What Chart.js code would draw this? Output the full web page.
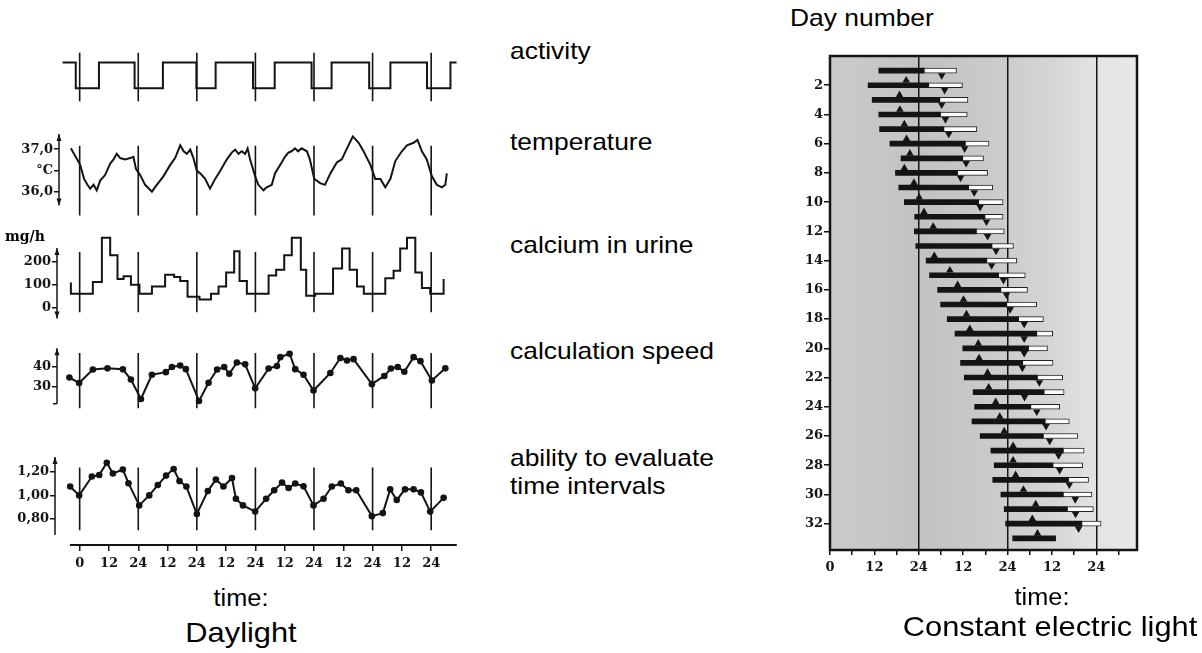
<!DOCTYPE html>
<html>
<head>
<meta charset="utf-8">
<title>Daylight vs constant electric light</title>
<script src="https://cdn.jsdelivr.net/npm/chart.js@4.4.1/dist/chart.umd.min.js"></script>
<style>
  body { margin:0; width:1202px; height:653px; background:#fff; position:relative; overflow:hidden;
         font-family:"Liberation Sans", Arial, sans-serif; color:#000; }
  canvas { position:absolute; }
  .lbl { position:absolute; white-space:nowrap; line-height:1; transform-origin:left top; transform:scaleX(1.1); }
  .mid { transform-origin:center top; transform:translateX(-50%) scaleX(1.1); }
  .unit { font-family:"DejaVu Serif", serif; font-weight:bold; font-size:14px; transform:none; }
</style>
</head>
<body>
<canvas id="activity" width="470" height="54" style="left:0;top:50px"></canvas>
<canvas id="temperature" width="470" height="108" style="left:0;top:120px"></canvas>
<canvas id="calcium" width="470" height="104" style="left:0;top:226px"></canvas>
<canvas id="speed" width="470" height="84" style="left:0;top:336px"></canvas>
<canvas id="evaluation" width="470" height="131" style="left:0;top:444px"></canvas>
<canvas id="actogram" width="380" height="550" style="left:780px;top:40px"></canvas>

<div class="lbl" style="left:510px;top:39px;font-size:24px">activity</div>
<div class="lbl" style="left:510px;top:130px;font-size:24px">temperature</div>
<div class="lbl" style="left:510px;top:233px;font-size:24px">calcium in urine</div>
<div class="lbl" style="left:510px;top:339px;font-size:24px">calculation speed</div>
<div class="lbl" style="left:510px;top:446px;font-size:24px">ability to evaluate</div>
<div class="lbl" style="left:510px;top:474px;font-size:24px">time intervals</div>
<div class="lbl unit" style="left:5px;top:229px">mg/h</div>
<div class="lbl mid" style="left:241px;top:587px;font-size:23px">time:</div>
<div class="lbl mid" style="left:241px;top:619px;font-size:28px">Daylight</div>
<div class="lbl" style="left:790px;top:6px;font-size:24px">Day number</div>
<div class="lbl mid" style="left:1042px;top:586px;font-size:23px">time:</div>
<div class="lbl mid" style="left:1050px;top:613px;font-size:28px">Constant electric light</div>

<script>
// ---- left panel: daylight, six days (hours from the first midnight) ----
const dayMarks = [0, 24, 48, 72, 96, 120, 144];
const xTickValues = [0, 12, 24, 36, 48, 60, 72, 84, 96, 108, 120, 132, 144];
const xTickLabels = ['0', '12', '24', '12', '24', '12', '24', '12', '24', '12', '24', '12', '24'];

const actTimes = [-7, -1.6, 7.9, 22.5, 34.1, 47.8, 55.7, 71, 79.9, 95, 103.2, 118.6, 127.3, 142.3, 151.9, 154.4];
const actLevels = [1, 0, 1, 0, 1, 0, 1, 0, 1, 0, 1, 0, 1, 0, 1, 1];

const tempTimes = [-3.6, 0.2, 1.8, 3.2, 4.3, 5.7, 7.0, 8.4, 10.4, 12.5, 13.9, 15.2, 16.6, 18.6, 20.7, 22.0, 23.1,
  24.8, 26.8, 29.6, 31.6, 34.3, 37.1, 39.1, 41.2, 42.6, 43.9, 45.3, 46.6, 48.0, 49.4, 51.4, 53.4, 55.5, 57.6,
  60.3, 62.3, 63.7, 65.1, 66.4, 67.8, 68.8, 69.8, 71.9, 73.2, 75.3, 76.6, 78.7, 80.0, 82.8, 84.1, 85.5, 86.8,
  88.2, 89.5, 90.9, 93.1, 94.3, 96.1, 98.5, 100.5, 102.7, 105.4, 107.4, 109.5, 111.9, 114.3, 116.3, 119.1,
  121.1, 123.2, 125.2, 127.3, 129.3, 132.0, 134.1, 136.8, 138.4, 140.2, 142.2, 144.3, 146.3, 148.4, 149.8, 150.4];
const tempValues = [37.02, 36.63, 36.30, 36.16, 36.07, 36.16, 36.03, 36.26, 36.39, 36.66, 36.76, 36.89, 36.79, 36.76, 36.79, 36.82, 36.53,
  36.39, 36.16, 36.00, 36.16, 36.36, 36.63, 36.79, 37.09, 36.95, 36.89, 36.99, 36.79, 36.49, 36.43, 36.30, 36.07, 36.30, 36.49,
  36.76, 36.92, 36.99, 36.89, 36.95, 36.89, 37.02, 36.76, 36.36, 36.16, 36.03, 36.10, 36.16, 36.43, 36.69, 36.82, 36.92, 36.95,
  37.02, 36.95, 37.02, 36.95, 36.76, 36.30, 36.20, 36.16, 36.43, 36.69, 36.76, 37.02, 37.30, 37.15, 36.95, 36.63,
  36.30, 36.30, 36.10, 36.30, 36.72, 36.95, 37.09, 37.15, 37.22, 36.95, 36.76, 36.36, 36.16, 36.10, 36.16, 36.43];
const tempTicks = [36.0, 36.5, 37.0];
const tempTickLabels = ['36,0', '°C', '37,0'];

// calcium: each value holds from its time until the next one
const caTimes = [-3.6, -3.6, 5.4, 9.1, 12.5, 15.5, 18.0, 21.0, 24.5, 29.6, 35.0, 38.7, 41.2, 44.2, 49.1, 53.8, 56.9,
  60.0, 63.3, 65.5, 68.5, 77.4, 80.5, 83.8, 86.9, 90.6, 92.8, 96.5, 103.8, 107.5, 110.6, 113.6, 116.4, 125.2,
  128.6, 131.3, 134.1, 137.5, 140.2, 143.6, 149.1];
const caValues = [109, 60, 111, 305, 228, 124, 136, 99, 60, 91, 143, 133, 115, 46, 34, 60, 91,
  152, 245, 115, 60, 139, 164, 228, 305, 164, 51, 60, 170, 257, 164, 91, 60, 127,
  160, 257, 305, 152, 85, 60, 124];
const caTicks = [0, 100, 200];
const caTickLabels = ['0', '100', '200'];

const speedTimes = [-4.2, -0.2, 5.4, 11.4, 17.7, 21.0, 25.1, 29.6, 35.3, 37.8, 41.2, 43.5, 48.9, 52.8, 56.3, 59.2,
  61.3, 64.4, 67.8, 71.9, 77.4, 80.8, 82.2, 86.0, 88.3, 91.7, 95.8, 102.7, 106.8, 109.5, 112.2, 119.7, 124.8,
  127.5, 130.3, 133.0, 136.8, 139.6, 144.3, 149.8];
const speedValues = [34.7, 32.0, 38.7, 39.3, 38.8, 33.7, 24.0, 36.1, 37.4, 40.0, 40.7, 38.9, 23.0, 32.1, 38.7, 40.0,
  36.6, 42.2, 41.3, 29.3, 39.2, 40.5, 44.9, 46.6, 38.9, 36.1, 28.2, 37.0, 44.5, 43.2, 43.9, 31.4, 35.5,
  39.2, 40.0, 37.6, 44.9, 42.9, 33.2, 39.3];
const speedTicks = [30, 40];
const speedTickLabels = ['30', '40'];

const evalTimes = [-3.9, -0.2, 5.0, 8.0, 11.1, 13.6, 17.7, 20.0, 24.4, 28.5, 32.0, 35.4, 38.5, 40.9, 43.7, 48.0,
  52.5, 55.8, 58.9, 62.4, 64.0, 66.9, 71.9, 76.4, 79.7, 82.9, 85.6, 88.3, 91.7, 95.8, 99.9, 103.3, 107.0,
  110.1, 113.3, 119.7, 124.2, 127.2, 129.9, 133.3, 136.8, 139.8, 143.6, 149.1];
const evalValues = [1.076, 1.00, 1.162, 1.175, 1.28, 1.188, 1.222, 1.105, 0.914, 1.00, 1.089, 1.17, 1.227, 1.123, 1.076, 0.84,
  1.037, 1.136, 1.076, 1.149, 0.971, 0.914, 0.861, 0.971, 1.044, 1.11, 1.063, 1.102, 1.078, 0.914, 0.971, 1.076, 1.102,
  1.044, 1.044, 0.822, 0.848, 1.052, 0.961, 1.052, 1.052, 1.026, 0.861, 0.979];
const evalTicks = [0.8, 1.0, 1.2];
const evalTickLabels = ['0,80', '1,00', '1,20'];

// ---- right panel: constant electric light, days 1..33 ----
const days = [1, 2, 3, 4, 5, 6, 7, 8, 9, 10, 11, 12, 13, 14, 15, 16, 17, 18, 19, 20, 21, 22, 23, 24, 25, 26, 27, 28, 29, 30, 31, 32, 33];
const blackStart = [13.2, 10.3, 11.4, 13.2, 13.4, 16.2, 19.2, 17.7, 18.6, 20.1, 22.9, 22.8, 23.2, 26.0, 26.9, 29.1, 29.9,
  31.7, 33.8, 35.9, 35.3, 36.3, 38.7, 39.1, 38.4, 40.6, 43.5, 44.4, 44.0, 46.2, 47.1, 47.5, 49.4];
const blackEnd = [25.5, 26.7, 29.7, 29.9, 30.8, 36.6, 35.9, 34.5, 37.5, 40.2, 41.9, 39.6, 43.8, 42.4, 45.6, 46.2, 47.8,
  51.0, 55.9, 53.7, 52.1, 56.1, 57.9, 54.3, 58.2, 57.7, 63.1, 60.3, 64.5, 63.1, 64.2, 68.1, 61.0];
const whiteEnd = [34.2, 35.8, 37.3, 37.1, 39.7, 43.0, 41.5, 42.6, 44.0, 46.8, 46.8, 47.1, 49.6, 50.5, 52.8, 53.4, 55.9,
  57.7, 60.2, 58.8, 60.3, 62.9, 63.3, 62.1, 64.7, 67.0, 68.7, 68.3, 69.9, 70.8, 71.2, 73.3, null];
// ▲ sitting on the bar of the given day, ▼ hanging under it
const upDays = [2, 3, 4, 5, 6, 7, 8, 9, 10, 11, 12, 14, 15, 16, 17, 18, 19, 20, 21, 22, 23, 24, 25, 26, 27, 28, 29, 30, 31, 32, 33];
const upHours = [20.6, 18.8, 18.9, 20.1, 20.7, 21.6, 20.1, 22.7, 24.1, 25.4, 27.9, 28.2, 32.4, 34.5, 36.1, 36.9, 37.8,
  40.1, 40.3, 42.6, 42.9, 44.8, 45.9, 47.1, 49.5, 49.5, 50.2, 52.3, 55.6, 54.7, 56.1];
const downDays = [1, 2, 3, 4, 5, 6, 7, 8, 9, 10, 11, 12, 13, 14, 15, 16, 17, 18, 19, 20, 21, 22, 23, 24, 25, 26, 27, 28, 29, 30, 31, 32];
const downHours = [30.2, 31.0, 30.2, 31.2, 32.1, 36.4, 36.8, 35.3, 39.0, 40.6, 42.3, 42.6, 44.9, 43.7, 46.9, 47.7, 48.7,
  52.5, 52.5, 52.5, 52.0, 56.6, 52.6, 55.9, 58.4, 59.4, 61.8, 62.1, 64.7, 66.3, 66.4, 67.2];
const dayTicks = [2, 4, 6, 8, 10, 12, 14, 16, 18, 20, 22, 24, 26, 28, 30, 32];
const hourTicks = [0, 6, 12, 18, 24, 30, 36, 42, 48, 54, 60, 66, 72, 78];
const hourTickLabels = ['0', '', '12', '', '24', '', '12', '', '24', '', '12', '', '24', ''];
const dayLineHours = [24, 48, 72];

// ---------------------------------------------------------------
const INK = '#141414';
const tickFont = { family: '"DejaVu Serif", serif', size: 13, weight: 'bold' };
const PX_PER_H = 2.441, X_MAX = 155.4, RIGHT_EDGE = 459;

// vertical axis line with arrow heads between two data values, optional time axis line
const axisArrows = {
  id: 'axisArrows',
  afterDatasetsDraw(chart, args, o) {
    if (o.top === undefined) return;
    const ctx = chart.ctx, x = chart.chartArea.left, ys = chart.scales.y;
    const yt = ys.getPixelForValue(o.top), yb = ys.getPixelForValue(o.bottom);
    ctx.save();
    ctx.strokeStyle = INK; ctx.fillStyle = INK; ctx.lineWidth = 1.5;
    ctx.beginPath(); ctx.moveTo(x, yt); ctx.lineTo(x, yb); ctx.stroke();
    const head = (y, dir) => {
      ctx.beginPath(); ctx.moveTo(x, y); ctx.lineTo(x - 2.5, y + dir * 7); ctx.lineTo(x + 2.5, y + dir * 7);
      ctx.closePath(); ctx.fill();
    };
    if (o.arrowTop) head(yt, 1);
    if (o.arrowBottom) head(yb, -1);
    if (o.foot) { ctx.beginPath(); ctx.moveTo(x, yb); ctx.lineTo(x - 4, yb); ctx.stroke(); }
    if (o.timeLine) {
      const xs = chart.scales.x, yl = chart.chartArea.bottom;
      ctx.lineWidth = 2.2;
      ctx.beginPath(); ctx.moveTo(xs.getPixelForValue(o.timeLine[0]), yl);
      ctx.lineTo(xs.getPixelForValue(o.timeLine[1]), yl); ctx.stroke();
    }
    ctx.restore();
  }
};

function leftChart(id, c) {
  const xMin = X_MAX - (RIGHT_EDGE - c.axisX) / PX_PER_H;
  const datasets = [
    {
      data: dayMarks.flatMap(d => [{ x: d, y: c.lineLo }, { x: d, y: c.lineHi }, { x: d, y: null }]),
      borderColor: INK, borderWidth: 1.6, pointRadius: 0, spanGaps: false, clip: false
    },
    {
      data: c.times.map((t, i) => ({ x: t, y: c.values[i] })),
      borderColor: INK, borderWidth: 2, stepped: c.stepped || false, tension: 0,
      pointRadius: c.dots ? 3.3 : 0, pointBackgroundColor: INK, pointBorderWidth: 0, clip: false
    }
  ];
  const yScale = c.ticks ? {
    type: 'linear', min: c.yMin, max: c.yMax,
    afterFit: s => { s.width = c.axisX; },
    afterBuildTicks: s => { s.ticks = c.ticks.map(v => ({ value: v })); },
    ticks: { callback: (v, i) => c.tickLabels[i], font: tickFont, color: INK, padding: 1 },
    grid: { drawOnChartArea: false, tickLength: 5, color: INK, lineWidth: 1.5 },
    border: { display: false }
  } : { type: 'linear', min: c.yMin, max: c.yMax, display: false };
  const xScale = c.showX ? {
    type: 'linear', min: xMin, max: X_MAX, position: 'bottom',
    afterFit: s => { s.height = 30; },
    afterBuildTicks: s => { s.ticks = xTickValues.map(v => ({ value: v })); },
    ticks: { callback: (v, i) => xTickLabels[i], font: tickFont, color: INK, padding: 5, autoSkip: false, maxRotation: 0 },
    grid: { drawOnChartArea: false, tickLength: 6, color: INK, lineWidth: 1.5 },
    border: { display: false }
  } : { type: 'linear', min: xMin, max: X_MAX, display: false };

  new Chart(document.getElementById(id), {
    type: 'line',
    data: { datasets },
    options: {
      responsive: false, animation: false, devicePixelRatio: 1,
      layout: { padding: { left: c.ticks ? 0 : c.axisX, right: 470 - RIGHT_EDGE, top: 0, bottom: 0 } },
      plugins: { legend: { display: false }, tooltip: { enabled: false }, axisArrows: c.arrows || false },
      scales: { x: xScale, y: yScale }
    },
    plugins: [axisArrows]
  });
}

leftChart('activity', {
  times: actTimes, values: actLevels, stepped: true, axisX: 59,
  yMin: -0.61, yMax: 1.49, lineLo: -0.5, lineHi: 1.38
});
leftChart('temperature', {
  times: tempTimes, values: tempValues, axisX: 59, yMin: 35.35, yMax: 37.48, lineLo: 35.44, lineHi: 37.08,
  ticks: tempTicks, tickLabels: tempTickLabels,
  arrows: { top: 37.36, bottom: 35.67, arrowTop: true, arrowBottom: true }
});
leftChart('calcium', {
  times: caTimes, values: caValues, stepped: true, axisX: 57, yMin: -60.7, yMax: 317.5, lineLo: -21, lineHi: 242,
  ticks: caTicks, tickLabels: caTickLabels,
  arrows: { top: 260, bottom: -49, arrowTop: true, arrowBottom: true }
});
leftChart('speed', {
  times: speedTimes, values: speedValues, dots: true, axisX: 57, yMin: 17.87, yMax: 51.07, lineLo: 19.4, lineHi: 47.0,
  ticks: speedTicks, tickLabels: speedTickLabels,
  arrows: { top: 49.3, bottom: 21.6, arrowTop: true, foot: true }
});
leftChart('evaluation', {
  times: evalTimes, values: evalValues, dots: true, axisX: 55, yMin: 0.574, yMax: 1.366, lineLo: 0.70, lineHi: 1.24,
  ticks: evalTicks, tickLabels: evalTickLabels, showX: true,
  arrows: { top: 1.33, bottom: 0.66, arrowTop: true, timeLine: [-4, 154.5] }
});

// ---- actogram ----
const actoFrame = {
  id: 'actoFrame',
  beforeDraw(chart) {
    const { ctx, chartArea: a } = chart;
    const g = ctx.createLinearGradient(a.left, 0, a.right, 0);
    g.addColorStop(0, '#cbcbcb'); g.addColorStop(0.3, '#c2c2c2'); g.addColorStop(0.5, '#c9c9c9');
    g.addColorStop(0.72, '#d5d5d5'); g.addColorStop(0.86, '#e3e3e3'); g.addColorStop(1, '#e9e9e9');
    ctx.save(); ctx.fillStyle = g; ctx.fillRect(a.left, a.top, a.right - a.left, a.bottom - a.top); ctx.restore();
  },
  afterDraw(chart) {
    const { ctx, chartArea: a } = chart;
    ctx.save(); ctx.strokeStyle = INK; ctx.lineWidth = 2.5;
    ctx.strokeRect(a.left, a.top, a.right - a.left, a.bottom - a.top); ctx.restore();
  }
};

const triangle = (pts, rot) => ({
  type: 'scatter', indexAxis: 'x', data: pts, pointStyle: 'triangle', rotation: rot,
  pointRadius: 4.4, pointBackgroundColor: INK, pointBorderWidth: 0, showLine: false
});

new Chart(document.getElementById('actogram'), {
  type: 'bar',
  data: {
    datasets: [
      {
        indexAxis: 'y', grouped: false, barThickness: 5, backgroundColor: INK, borderWidth: 0,
        data: days.map((d, i) => ({ y: d, x: [blackStart[i], blackEnd[i]] }))
      },
      {
        indexAxis: 'y', grouped: false, barThickness: 5, backgroundColor: '#fcfcfc', borderColor: '#222', borderWidth: 1,
        data: days.filter((d, i) => whiteEnd[i] !== null).map(d => ({ y: d, x: [blackEnd[d - 1], whiteEnd[d - 1]] }))
      },
      triangle(upDays.map((d, i) => ({ x: upHours[i], y: d - 0.33 })), 0),
      triangle(downDays.map((d, i) => ({ x: downHours[i], y: d + 0.33 })), 180)
    ]
  },
  options: {
    indexAxis: 'y', responsive: false, animation: false, devicePixelRatio: 1,
    layout: { padding: { left: 0, right: 23, top: 16, bottom: 0 } },
    plugins: { legend: { display: false }, tooltip: { enabled: false } },
    scales: {
      x: {
        type: 'linear', min: 0, max: 83, offset: false, position: 'bottom',
        afterFit: s => { s.height = 40; },
        afterBuildTicks: s => { s.ticks = hourTicks.map(v => ({ value: v })); },
        ticks: { callback: (v, i) => hourTickLabels[i], font: tickFont, color: INK, padding: 5, autoSkip: false, maxRotation: 0 },
        grid: {
          offset: false, tickLength: 5, tickColor: INK, tickWidth: 1.5,
          color: ctx => (ctx.tick && dayLineHours.includes(ctx.tick.value)) ? INK : 'rgba(0,0,0,0)',
          lineWidth: 1.5
        },
        border: { display: false }
      },
      y: {
        type: 'linear', min: 0, max: 33.8, reverse: true, offset: false,
        afterFit: s => { s.width = 50; },
        afterBuildTicks: s => { s.ticks = dayTicks.map(v => ({ value: v })); },
        ticks: { font: tickFont, color: INK, padding: 1 },
        grid: { drawOnChartArea: false, offset: false, tickLength: 6, color: INK, lineWidth: 1.5 },
        border: { display: false }
      }
    }
  },
  plugins: [actoFrame]
});
</script>
</body>
</html>
